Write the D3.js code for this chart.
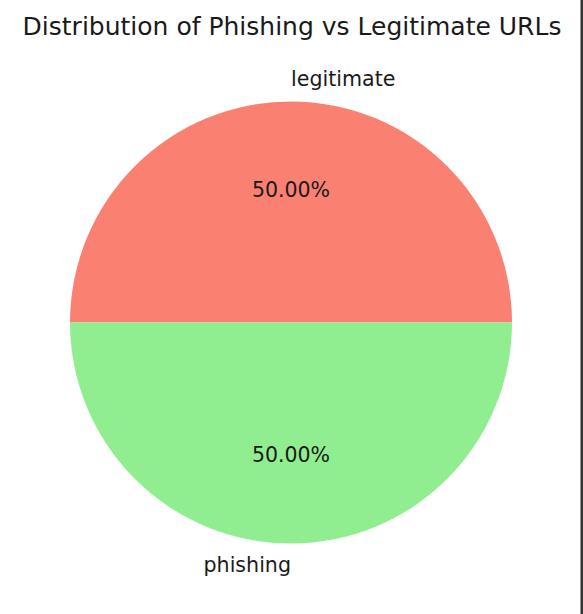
<!DOCTYPE html>
<html><head><meta charset="utf-8">
<script src="https://cdn.jsdelivr.net/npm/d3@7"></script>
<style>html,body{margin:0;padding:0;background:#fff;overflow:hidden}</style>
</head><body>
<svg id="c" width="583" height="614"></svg>
<script>
const categories = ["legitimate", "phishing"];
const values = [50, 50];
const colors = ["#FA8072", "#90EE90"];
const title = "Distribution of Phishing vs Legitimate URLs";

const svg = d3.select("#c");
const W = 583, H = 614;
const cx = 291, cy = 322.5, R = 221;
const font = "DejaVu Sans, sans-serif";

svg.append("rect").attr("width", W).attr("height", H).attr("fill", "#fff");

svg.append("text").attr("x", 292).attr("y", 35).attr("text-anchor", "middle")
  .attr("font-family", font).attr("font-size", 25).attr("fill", "#1a1a1a").text(title);

// matplotlib: counterclockwise from 3 o'clock. d3: clockwise from 12 o'clock.
const total = d3.sum(values);
const angle = d3.scaleLinear().domain([0, total]).range([0, 2 * Math.PI]);
const g = svg.append("g").attr("transform", `translate(${cx},${cy})`);
const arc = d3.arc().innerRadius(0).outerRadius(R);
let cum = 0;
const slices = values.map((v, i) => {
  const a0 = angle(cum), a1 = angle(cum + v); cum += v;
  return {i, v, startAngle: Math.PI / 2 - a1, endAngle: Math.PI / 2 - a0, mid: (a0 + a1) / 2};
});
g.selectAll("path").data(slices).join("path")
  .attr("d", arc).attr("fill", d => colors[d.i]);

g.selectAll("text.lbl").data(slices).join("text").attr("class", "lbl")
  .attr("x", d => 1.1 * R * Math.cos(d.mid))
  .attr("y", d => -1.1 * R * Math.sin(d.mid))
  .attr("dy", "0.32em")
  .attr("text-anchor", d => Math.cos(d.mid) > 0 ? "start" : "end")
  .attr("font-family", font).attr("font-size", 20.6).attr("fill", "#1a1a1a")
  .text(d => categories[d.i]);

g.selectAll("text.pct").data(slices).join("text").attr("class", "pct")
  .attr("x", d => 0.6 * R * Math.cos(d.mid))
  .attr("y", d => -0.6 * R * Math.sin(d.mid))
  .attr("dy", "0.36em")
  .attr("text-anchor", "middle")
  .attr("font-family", font).attr("font-size", 20.5).attr("fill", "#1a1a1a")
  .text(d => (d.v / total * 100).toFixed(2) + "%");

svg.append("rect").attr("x", 580.5).attr("y", 0).attr("width", 2.5).attr("height", H).attr("fill", "#333");
</script>
</body></html>
